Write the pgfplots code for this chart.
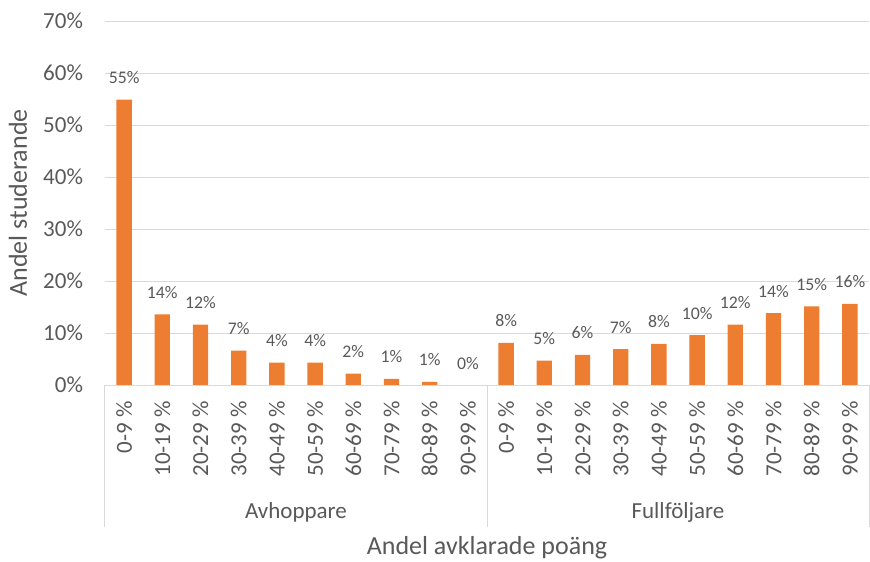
\documentclass[border=0pt]{standalone}
\usepackage{fontspec}
\setmainfont{Carlito}
\usepackage{pgfplots}
\pgfplotsset{compat=1.18}

\definecolor{barorange}{HTML}{ED7D31}
\definecolor{txtgray}{HTML}{595959}
\definecolor{gridgray}{HTML}{D9D9D9}

\begin{document}
\begin{tikzpicture}
    \begin{axis}[
        name=ax,
        width=573pt, height=273pt,
        scale only axis,
        clip=false,
        ybar,
        bar width=11.5pt,
        xmin=-0.5, xmax=19.5,
        ymin=0, ymax=70,
        ytick={0,10,...,70},
        xtick={0,...,19},
        xticklabels={0-9 \%,10-19 \%,20-29 \%,30-39 \%,40-49 \%,50-59 \%,60-69 \%,70-79 \%,80-89 \%,90-99 \%,
                     0-9 \%,10-19 \%,20-29 \%,30-39 \%,40-49 \%,50-59 \%,60-69 \%,70-79 \%,80-89 \%,90-99 \%},
        yticklabel={\pgfmathprintnumber{\tick}\%},
        /pgf/number format/assume math mode=true,
        major tick length=0pt,
        axis line style={draw=none},
        ymajorgrids,
        grid style={gridgray, line width=0.75pt},
        tick label style={font=\fontsize{17.25}{20}\selectfont, text=txtgray},
        yticklabel style={anchor=east, inner sep=0pt, xshift=-16.3pt},
        xticklabel style={yshift=-12pt, rotate=90, anchor=east, inner sep=0pt},
        ylabel={Andel studerande},
        xlabel={Andel avklarade poäng},
        label style={font=\fontsize{19.5}{22}\selectfont, text=txtgray},
        ylabel style={at={(axis description cs:-0.1021,0.5)}, anchor=base},
        xlabel style={at={(axis description cs:0.5,-0.4643)}, anchor=base},
        nodes near coords={\pgfmathprintnumber[fixed,precision=0]{\pgfplotspointmeta}\%},
        nodes near coords style={font=\fontsize{13.3}{15}\selectfont, text=txtgray,
            anchor=base, inner sep=0pt, yshift=12pt},
    ]
        % Avhoppare 0..9, Fullfoljare 10..19
        \addplot[fill=barorange, draw=none] coordinates {
            (0,54.9) (1,13.6) (2,11.6) (3,6.6) (4,4.3) (5,4.3) (6,2.2) (7,1.2) (8,0.6) (9,0.0)
            (10,8.1) (11,4.7) (12,5.8) (13,6.9) (14,7.9) (15,9.6) (16,11.6) (17,13.8) (18,15.1) (19,15.6)
        };
        \draw[gridgray, line width=0.75pt] (rel axis cs:0,0) -- (rel axis cs:1,0);
        \draw[gridgray, line width=0.75pt] (rel axis cs:0,0) -- ++(0pt,-106.5pt);
        \draw[gridgray, line width=0.75pt] (rel axis cs:0.5,0) -- ++(0pt,-106.5pt);
        \draw[gridgray, line width=0.75pt] (rel axis cs:1,0) -- ++(0pt,-106.5pt);
        \node[anchor=base, text=txtgray, font=\fontsize{17.25}{20}\selectfont]
            at (axis description cs:0.25,-0.368) {Avhoppare};
        \node[anchor=base, text=txtgray, font=\fontsize{17.25}{20}\selectfont]
            at (axis description cs:0.75,-0.368) {Fullföljare};
    \end{axis}
    \pgfresetboundingbox
    \path[use as bounding box] ([xshift=-78.75pt, yshift=-132pt]ax.south west)
        rectangle ([xshift=0.75pt, yshift=15.75pt]ax.north east);
\end{tikzpicture}
\end{document}
